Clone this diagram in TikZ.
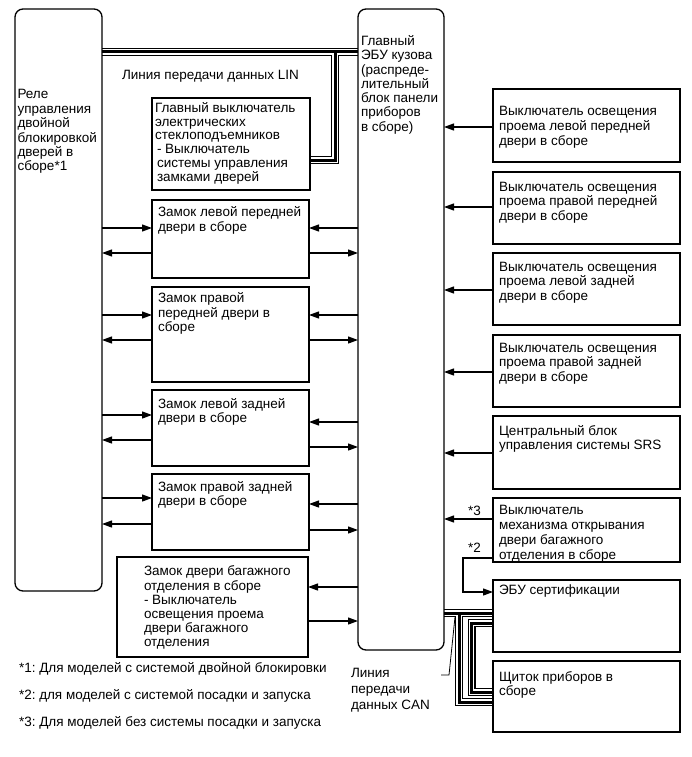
\documentclass[tikz,border=0pt]{standalone}
\usepackage{fontspec}
\setmainfont{Liberation Sans}
\usetikzlibrary{arrows.meta}
\pgfdeclarelayer{background}
\pgfsetlayers{background,main}
\begin{document}
\frenchspacing
\begin{tikzpicture}[x=1pt,y=-1pt,
  box/.style={draw, line width=1.3pt, inner sep=0pt, outer sep=0pt, anchor=north west},
  rbox/.style={box, rounded corners=8pt},
  txt/.style={inner sep=0pt, outer sep=0pt, anchor=north west, align=left, font=\fontsize{13.5}{14.5}\selectfont},
  arr/.style={line width=1.2pt, -{Triangle[length=10pt,width=7pt]}},
  cabout/.style={line width=8pt},
  cabmid/.style={white, line width=5.6pt},
  cabcore/.style={line width=3pt},
  leader/.style={line width=0.8pt}]
\useasboundingbox (0,0) rectangle (691,757);
\begin{pgfonlayer}{background}
\fill[white] (0,0) rectangle (691,757);
\end{pgfonlayer}

% main blocks
\node[rbox, minimum width=87pt, minimum height=582pt] (relay) at (15,9) {};
\node[rbox, minimum width=86pt, minimum height=641pt] (ecu) at (358,9) {};
\node[txt, font=\fontsize{13.5}{14.4}\selectfont] (relay-t) at (17.5,88.9) {\strut Реле\\управления\\двойной\\блокировкой\\дверей в\\сборе*1};
\node[txt, font=\fontsize{13.5}{14.25}\selectfont] (ecu-t) at (361,35.5) {\strut Главный\\ЭБУ кузова\\(распреде-\\лительный\\блок панели\\приборов\\в сборе)};

% LIN label and power window switch
\node[txt] (lin) at (122,69.85) {\strut Линия передачи данных LIN};
\node[box, minimum width=158pt, minimum height=92pt] (pws) at (152,98) {};
\node[txt, font=\fontsize{13.5}{13.8}\selectfont] (pws-t) at (155,102.3) {\strut Главный выключатель\\электрических\\стеклоподъемников\\\kern2pt- Выключатель\\\kern2pt системы управления\\\kern2pt замками дверей};

% door locks
\node[box, minimum width=157pt, minimum height=78pt] (lf) at (152,200) {};
\node[txt] (lf-t) at (158,206.35) {\strut Замок левой передней\\двери в сборе};
\node[box, minimum width=157pt, minimum height=95pt] (rf) at (152,287) {};
\node[txt] (rf-t) at (158,292.35) {\strut Замок правой\\передней двери в\\сборе};
\node[box, minimum width=157pt, minimum height=76pt] (lr) at (152,390) {};
\node[txt] (lr-t) at (158,397.85) {\strut Замок левой задней\\двери в сборе};
\node[box, minimum width=157pt, minimum height=76pt] (rr) at (152,474) {};
\node[txt] (rr-t) at (158,480.85) {\strut Замок правой задней\\двери в сборе};
\node[box, minimum width=191pt, minimum height=100pt] (trunk) at (117,557) {};
\node[txt, font=\fontsize{13.5}{14}\selectfont] (trunk-t) at (144,565.2) {\strut Замок двери багажного\\отделения в сборе\\- Выключатель\\освещения проема\\двери багажного\\отделения};

% right column
\node[box, minimum width=187pt, minimum height=73pt] (s1) at (493,89) {};
\node[txt] (s1-t) at (499,105.85) {\strut Выключатель освещения\\проема левой передней\\двери в сборе};
\node[box, minimum width=187pt, minimum height=72pt] (s2) at (493,172) {};
\node[txt] (s2-t) at (499,180.85) {\strut Выключатель освещения\\проема правой передней\\двери в сборе};
\node[box, minimum width=187pt, minimum height=72pt] (s3) at (493,253) {};
\node[txt] (s3-t) at (499,260.85) {\strut Выключатель освещения\\проема левой задней\\двери в сборе};
\node[box, minimum width=187pt, minimum height=72pt] (s4) at (493,335) {};
\node[txt] (s4-t) at (499,341.85) {\strut Выключатель освещения\\проема правой задней\\двери в сборе};
\node[box, minimum width=187pt, minimum height=73pt] (srs) at (493,416) {};
\node[txt] (srs-t) at (499,424.85) {\strut Центральный блок\\управления системы SRS};
\node[box, minimum width=187pt, minimum height=64pt] (tos) at (493,498) {};
\node[txt, font=\fontsize{13.5}{15}\selectfont] (tos-t) at (499,503.5) {\strut Выключатель\\механизма открывания\\двери багажного\\отделения в сборе};
\node[box, minimum width=187pt, minimum height=72pt] (cert) at (493,580) {};
\node[txt] (cert-t) at (499,583.85) {\strut ЭБУ сертификации};
\node[box, minimum width=187pt, minimum height=71pt] (meter) at (493,661) {};
\node[txt] (meter-t) at (499,670.85) {\strut Щиток приборов в\\сборе};

% small labels
\node[txt] (st3) at (468,504.85) {\strut *3};
\node[txt] (st2) at (468,541.85) {\strut *2};
\node[txt, font=\fontsize{13.5}{16}\selectfont] (canlbl) at (351,665.8) {\strut Линия\\передачи\\данных CAN};
\node[txt] (fn1) at (19,661.85) {\strut *1: Для моделей с системой двойной блокировки};
\node[txt] (fn2) at (19,688.85) {\strut *2: для моделей с системой посадки и запуска};
\node[txt] (fn3) at (19,715.85) {\strut *3: Для моделей без системы посадки и запуска};

% bus cables (LIN and CAN) on background layer
\begin{pgfonlayer}{background}
\foreach \cs in {cabout,cabmid,cabcore}{
  \draw[\cs] (relay.east |- 0,52) -- (ecu.west |- 0,52);
  \draw[\cs] (335,52) -- (335,160) -- (pws.east |- 0,160);
  \draw[\cs] (ecu.east |- 0,613) -- (cert.west |- 0,613);
  \draw[\cs] (459,613) -- (459,702) -- (meter.west |- 0,702);
  \draw[\cs] (cert.west |- 0,623) -- (471.5,623) -- (471.5,692) -- (meter.west |- 0,692);
}
\end{pgfonlayer}
\coordinate (canend) at (441,675);
\draw[leader] (455,617) -- (449,675) -- (canend);

% right column arrows into ECU
\draw[arr] (s1.west |- 0,127) -- (ecu.east |- 0,127);
\draw[arr] (s2.west |- 0,207) -- (ecu.east |- 0,207);
\draw[arr] (s3.west |- 0,290) -- (ecu.east |- 0,290);
\draw[arr] (s4.west |- 0,372) -- (ecu.east |- 0,372);
\draw[arr] (srs.west |- 0,453) -- (ecu.east |- 0,453);
\draw[arr] (tos.west |- 0,519) -- (ecu.east |- 0,519);
\draw[arr] (tos.west |- 0,558) -- (463,558) -- (463,592) -- (cert.west |- 0,592);

% door lock arrows
\draw[arr] (relay.east |- 0,228) -- (lf.west |- 0,228);
\draw[arr] (lf.west |- 0,253) -- (relay.east |- 0,253);
\draw[arr] (ecu.west |- 0,228) -- (lf.east |- 0,228);
\draw[arr] (lf.east |- 0,253) -- (ecu.west |- 0,253);

\draw[arr] (relay.east |- 0,315) -- (rf.west |- 0,315);
\draw[arr] (rf.west |- 0,340) -- (relay.east |- 0,340);
\draw[arr] (ecu.west |- 0,315) -- (rf.east |- 0,315);
\draw[arr] (rf.east |- 0,340) -- (ecu.west |- 0,340);

\draw[arr] (relay.east |- 0,415) -- (lr.west |- 0,415);
\draw[arr] (lr.west |- 0,440) -- (relay.east |- 0,440);
\draw[arr] (ecu.west |- 0,422) -- (lr.east |- 0,422);
\draw[arr] (lr.east |- 0,447) -- (ecu.west |- 0,447);

\draw[arr] (relay.east |- 0,498) -- (rr.west |- 0,498);
\draw[arr] (rr.west |- 0,524) -- (relay.east |- 0,524);
\draw[arr] (ecu.west |- 0,504) -- (rr.east |- 0,504);
\draw[arr] (rr.east |- 0,530) -- (ecu.west |- 0,530);

\draw[arr] (ecu.west |- 0,587) -- (trunk.east |- 0,587);
\draw[arr] (trunk.east |- 0,621) -- (ecu.west |- 0,621);
\end{tikzpicture}
\end{document}
